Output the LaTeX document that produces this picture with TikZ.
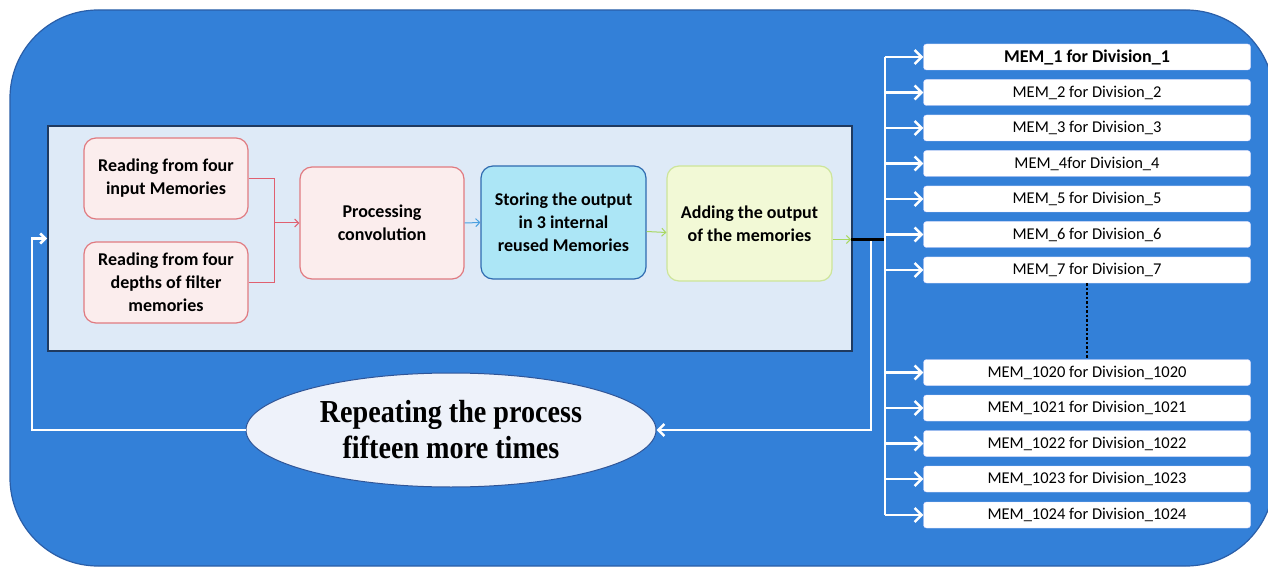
\documentclass[tikz,border=0pt]{standalone}
\usepackage{fontspec}
\setmainfont{Carlito}
\newfontfamily\ellfont[FakeStretch=0.88]{Liberation Serif}
\usetikzlibrary{arrows.meta,shapes.geometric}
\definecolor{outerblue}{HTML}{3380D8}
\definecolor{outerborder}{HTML}{2A5EA8}
\definecolor{innerfill}{HTML}{DEEAF7}
\definecolor{innerborder}{HTML}{1F3A60}
\definecolor{pinkfill}{HTML}{FBEDED}
\definecolor{pinkborder}{HTML}{E07A80}
\definecolor{cyanfill}{HTML}{ACE6F6}
\definecolor{cyanborder}{HTML}{2F6BB0}
\definecolor{yelfill}{HTML}{F2F9D6}
\definecolor{yelborder}{HTML}{CDE59A}
\definecolor{ellfill}{HTML}{EEF2FA}
\definecolor{ellborder}{HTML}{2F5597}
\definecolor{redline}{HTML}{E06070}
\definecolor{blueline}{HTML}{4AA0E0}
\definecolor{greenline}{HTML}{A8D860}
\tikzset{
  procbox/.style={rectangle, rounded corners=12pt, line width=1.2pt, align=center,
    font=\bfseries\fontsize{18}{23}\selectfont, inner sep=1pt},
  pinkbox/.style={procbox, fill=pinkfill, draw=pinkborder},
  memnode/.style={rectangle, rounded corners=3pt, fill=white, draw=white!85!blue,
    minimum width=327pt, minimum height=26pt, inner sep=0pt, font=\fontsize{16.5}{18}\selectfont},
  whitearrow/.style={draw=white, line width=2.5pt, -{Straight Barb[length=7pt,width=14pt]}},
  whiteline/.style={draw=white, line width=2.5pt},
}
\begin{document}
\begin{tikzpicture}[x=1pt,y=-1pt]
\useasboundingbox (0,0) rectangle (1268,569);
% outer background
\path[fill=outerblue, draw=outerborder, line width=1.2pt, rounded corners=88pt] (10,10) rectangle (1274,566);
% inner panel
\node[draw=innerborder, fill=innerfill, line width=2pt, minimum width=804pt, minimum height=225pt, inner sep=0pt] (inner) at (450,238.5) {};
% process boxes
\node[pinkbox, minimum width=164pt, minimum height=81pt] (r1) at (166,178.5) {Reading from four\\input Memories};
\node[pinkbox, minimum width=164pt, minimum height=81pt] (r2) at (166,282.5) {Reading from four\\depths of filter\\memories};
\node[pinkbox, minimum width=164pt, minimum height=112pt] (proc) at (382,223) {Processing\\convolution};
\node[procbox, fill=cyanfill, draw=cyanborder, minimum width=165pt, minimum height=113pt] (store) at (563.5,222.5) {Storing the output\\in 3 internal\\reused Memories};
\node[procbox, fill=yelfill, draw=yelborder, minimum width=165pt, minimum height=115pt] (add) at (749.5,223.5) {Adding the output\\of the memories};
% ellipse
\node[ellipse, fill=ellfill, draw=ellborder, line width=1pt, minimum width=410pt, minimum height=114pt, inner sep=0pt, align=center,
  font=\ellfont\bfseries\fontsize{32}{36}\selectfont] (ell) at (451,430) {Repeating the process\\fifteen more times};
% memory boxes
\node[memnode, font=\bfseries\fontsize{18}{20}\selectfont] (m1) at (1087,57) {MEM\_1 for Division\_1};
\node[memnode] (m2) at (1087,92.5) {MEM\_2 for Division\_2};
\node[memnode] (m3) at (1087,128) {MEM\_3 for Division\_3};
\node[memnode] (m4) at (1087,163.5) {MEM\_4for Division\_4};
\node[memnode] (m5) at (1087,199) {MEM\_5 for Division\_5};
\node[memnode] (m6) at (1087,234.5) {MEM\_6 for Division\_6};
\node[memnode] (m7) at (1087,270) {MEM\_7 for Division\_7};
\node[memnode] (m1020) at (1087,372.5) {MEM\_1020 for Division\_1020};
\node[memnode] (m1021) at (1087,408) {MEM\_1021 for Division\_1021};
\node[memnode] (m1022) at (1087,443.5) {MEM\_1022 for Division\_1022};
\node[memnode] (m1023) at (1087,479) {MEM\_1023 for Division\_1023};
\node[memnode] (m1024) at (1087,515) {MEM\_1024 for Division\_1024};
% connectors inside panel
\coordinate (rj) at (274,223);
\draw[redline, line width=1pt] (r1.east) -| (rj);
\draw[redline, line width=1pt] (r2.east) -| (rj);
\draw[redline, line width=1pt, -{Straight Barb[length=4pt,width=8pt]}] (rj) -- (proc.west);
\draw[blueline, line width=1pt, -{Straight Barb[length=4pt,width=8pt]}] (proc.east) -- (store.west);
\draw[greenline, line width=1pt, -{Straight Barb[length=4pt,width=8pt]}] ([yshift=-9pt]store.east) -- ([yshift=-9pt]add.west);
\coordinate (ge) at (851,239.5);
\draw[greenline, line width=1pt, -{Straight Barb[length=4pt,width=8pt]}] (add.east |- ge) -- (ge);
% bus
\coordinate (bus) at (885,239.5);
\coordinate (b2) at (871,239.5);
\coordinate (btop) at (885,57);
\coordinate (bbot) at (885,515);
\draw[black, line width=3.5pt] (ge) -- (bus);
\draw[whiteline] (btop) -- (bbot);
\foreach \m in {m1,m2,m3,m4,m5,m6,m7,m1020,m1021,m1022,m1023,m1024}
  \draw[whitearrow] (bus |- \m.west) -- (\m.west);
\draw[whitearrow, -{Straight Barb[length=6pt,width=12pt]}] ([yshift=-1.8pt]b2) |- (ell.east);
\coordinate (lc) at (32,238.5);
\draw[whitearrow, -{Straight Barb[length=5pt,width=10pt]}] (ell.west) -| (lc) -- (inner.west);
% dotted continuation
\draw[black, dotted, line width=2.5pt] (m7.south) -- (m1020.north);
\end{tikzpicture}
\end{document}
